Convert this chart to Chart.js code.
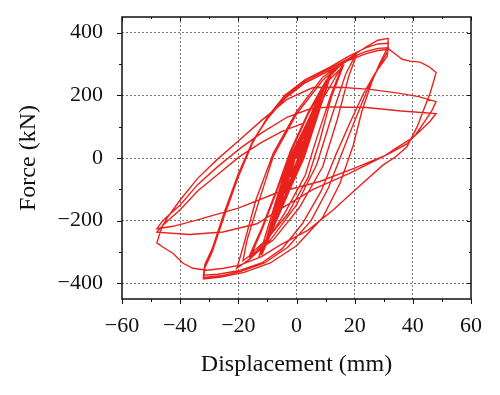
<!DOCTYPE html>
<html>
<head>
<meta charset="utf-8">
<script src="https://cdn.jsdelivr.net/npm/chart.js@4.4.0/dist/chart.umd.min.js"></script>
<style>
  html, body { margin: 0; padding: 0; background: #fff; }
  #wrap { width: 500px; height: 395px; }
</style>
</head>
<body>
<div id="wrap"><canvas id="c" width="500" height="395"></canvas></div>
<script>
// [displacement (mm), force (kN)], in loading order
const elasticCycles = [
  [0,0],[2,55],[0.5,0],[-2,-60],[-0.5,0],
  [4,105],[0.8,0],[-4,-115],[-0.8,0],
  [4,100],[0.9,0],[-4,-112],[-0.9,0],
  [6,155],[1.2,0],[-6,-170],[-1.2,0],
  [6,150],[1.3,0],[-6,-165],[-1.3,0],
  [8,205],[1.6,0],[-8,-222],[-1.6,0],
  [8,198],[1.7,0],[-8,-215],[-1.7,0],
  [10,245],[2,0],[-10,-268],[-2,0],
  [10,238],[2.1,0],[-10,-262],[-2.1,0],
  [12,278],[2.4,0],[-12,-310],[-2.4,0],
  [12,270],[2.6,0],[-13,-318],[-2.6,0]
];
const midCycles = [
  [16,300],[12,205],[7,65],[3,-55],[-4,-175],[-10,-262],[-16,-318],
  [-12,-232],[-7,-112],[-2,18],[4,140],[10,238],[16,292],
  [12,195],[8,55],[4,-62],[-3,-178],[-10,-258],[-16,-308],
  [-12,-225],[-7,-105],[-2,25],[4,145],[10,245],[15,295],[20.5,332],
  [17,270],[12,130],[7,-20],[0,-150],[-9,-262],[-16,-322],[-20.5,-352],
  [-18,-272],[-14,-135],[-8,15],[0,148],[9,258],[16,305],[20.5,325],
  [18,262],[14,122],[9,-28],[1,-158],[-8,-262],[-15,-305],[-18.4,-327],
  [-17,-262],[-13,-140],[-8,5],[0,140],[9,248],[17,312],[24,355],[28,376],[31.5,382]
];
const cycles32 = [
  [31.5,356],[28.5,300],[26,245],[22.5,150],[19.5,40],[15,-80],[9,-190],[0,-280],[-9,-335],[-18,-365],[-26,-380],[-32,-386],
  [-31.5,-350],[-29,-300],[-25,-190],[-20,-60],[-15,50],[-10,130],[-4,200],[3,250],[11.5,290],[18,325],[24,352],[28,364],[31.5,366],
  [31.3,340],[28,285],[24.5,220],[20.5,130],[16,25],[11,-95],[5,-200],[-3,-285],[-11,-335],[-19,-362],[-26,-376],[-32,-381],
  [-31.5,-345],[-29,-295],[-25,-185],[-20,-55],[-15,55],[-10,128],[-4,195],[3,245],[11.5,285],[18,318],[24,340],[28,350],[31.5,352],
  [31.2,325],[27,270],[23,205],[18.5,115],[13.5,10],[8.5,-105],[2,-210],[-5,-290],[-12,-335],[-20,-360],[-27,-371],[-32,-374],
  [-31.5,-340],[-29,-290],[-25,-178],[-20,-50],[-15,55],[-10,125],[-4,190],[3,240],[11.5,280],[18,312],[24,333],[28,343],[31.8,347],
  [34,332],[36.3,315],[39,309],[42.5,306],[45.5,292],[48,273]
];
const cycles48 = [
  [47,240],[46,209],[44,160],[41.5,100],[38,36],[34,3],[29.8,-22],[21,-95],[12.6,-166],[4,-230],[-5.7,-278],[-12,-315],
  [-19.5,-342],[-25,-352],[-30.8,-358],[-35.6,-352],[-39,-336],[-42.5,-304],[-46,-284],[-48,-271],
  [-47,-240],[-46,-215],[-44,-185],[-40,-134],[-34,-65],[-27.4,-6],[-19.5,58],[-12,120],[-3.3,187],[5.7,225],[15,226],[25.3,219],[35,207],[42,196],[48,180],
  [46.5,150],[44,115],[41,75],[38,45],[31,10],[20,-32],[8,-75],[-6.7,-111],[-20,-160],[-35,-200],[-42.5,-218],[-48,-226],
  [-46,-200],[-43,-175],[-40,-150],[-34,-85],[-27.4,-30],[-19.5,30],[-12,80],[-3.3,130],[5,158],[12,163],[24,161],[36,150],[48,142],
  [46,118],[44,100],[40,65],[34,30],[29.8,4],[18,-50],[5.7,-100],[-5,-160],[-13.6,-210],[-25.3,-236],[-36.7,-244],[-48,-237],
  [-46,-215],[-43,-190],[-40,-165],[-34,-105],[-27.4,-55],[-19.5,5],[-12,50],[-5,85],[2,110]
];
// axis tick values (labelled ones are the multiples of the major step)
const xTicks = [-60,-50,-40,-30,-20,-10,0,10,20,30,40,50,60];
const yTicks = [-400,-300,-200,-100,0,100,200,300,400];
const xTickMajor = 20;
const yTickMajor = 200;

const history = [].concat(elasticCycles, midCycles, cycles32, cycles48).map(p => ({x: p[0], y: p[1]}));

const FONT = "'Liberation Serif', 'DejaVu Serif', serif";
const fmt = v => (v < 0 ? '\u2212' + Math.abs(v) : String(v));

const frameTicks = {
  id: 'frameTicks',
  afterDraw(chart) {
    const {ctx, chartArea: a, scales: {x, y}} = chart;
    ctx.save();
    ctx.strokeStyle = '#111';
    ctx.lineWidth = 1;
    const seg = (x1, y1, x2, y2) => { ctx.beginPath(); ctx.moveTo(x1, y1); ctx.lineTo(x2, y2); ctx.stroke(); };
    x.ticks.forEach(t => {
      const px = Math.round(x.getPixelForValue(t.value)) + 0.5;
      const len = t.value % xTickMajor === 0 ? 5 : 3;
      seg(px, a.bottom, px, a.bottom + len);
      seg(px, a.top, px, a.top + len - 1);
    });
    y.ticks.forEach(t => {
      const py = Math.round(y.getPixelForValue(t.value)) + 0.5;
      const len = t.value % yTickMajor === 0 ? 5 : 3;
      seg(a.left - len, py, a.left, py);
      seg(a.right - len + 1, py, a.right, py);
    });
    ctx.lineWidth = 1.5;
    ctx.strokeRect(a.left, a.top, a.right - a.left, a.bottom - a.top);
    ctx.restore();
  }
};

const noPad = s => { s.paddingTop = 0; s.paddingBottom = 0; s.paddingLeft = 0; s.paddingRight = 0; };

new Chart(document.getElementById('c'), {
  type: 'scatter',
  data: {
    datasets: [{
      data: history,
      showLine: true,
      borderColor: '#ea221d',
      borderWidth: 1.4,
      pointRadius: 0,
      tension: 0,
      fill: false
    }]
  },
  options: {
    responsive: false,
    animation: false,
    devicePixelRatio: 1,
    layout: { padding: { top: 17, right: 29, left: 0, bottom: 0 } },
    plugins: { legend: { display: false }, tooltip: { enabled: false } },
    scales: {
      x: {
        type: 'linear', min: -60, max: 60, position: 'bottom', bounds: 'data',
        afterBuildTicks: s => { s.ticks = xTicks.map(v => ({ value: v })); },
        ticks: {
          autoSkip: false, maxRotation: 0, padding: 14,
          color: '#111', font: { family: FONT, size: 22 },
          callback: v => (v % xTickMajor === 0 ? fmt(v) : '')
        },
        grid: {
          drawTicks: false, lineWidth: 1,
          color: c => (c.tick && c.tick.value % xTickMajor === 0 && Math.abs(c.tick.value) < 60) ? '#777' : 'rgba(0,0,0,0)'
        },
        border: { display: false, dash: [2, 2] },
        title: { display: true, text: 'Displacement (mm)', color: '#111', font: { family: FONT, size: 24 }, padding: { top: 0, bottom: 16 } },
        afterFit: s => { s.height = 96; noPad(s); }
      },
      y: {
        type: 'linear', min: -450, max: 450, position: 'left', bounds: 'data',
        afterBuildTicks: s => { s.ticks = yTicks.map(v => ({ value: v })); },
        ticks: {
          autoSkip: false, padding: 19,
          color: '#111', font: { family: FONT, size: 22 },
          callback: v => (v % yTickMajor === 0 ? fmt(v) : '')
        },
        grid: {
          drawTicks: false, lineWidth: 1,
          color: c => (c.tick && c.tick.value % yTickMajor === 0) ? '#777' : 'rgba(0,0,0,0)'
        },
        border: { display: false, dash: [2, 2] },
        title: { display: true, text: 'Force (kN)', color: '#111', font: { family: FONT, size: 24 }, padding: { top: 14, bottom: 0 } },
        afterFit: s => { s.width = 122; noPad(s); }
      }
    }
  },
  plugins: [frameTicks]
});
</script>
</body>
</html>
